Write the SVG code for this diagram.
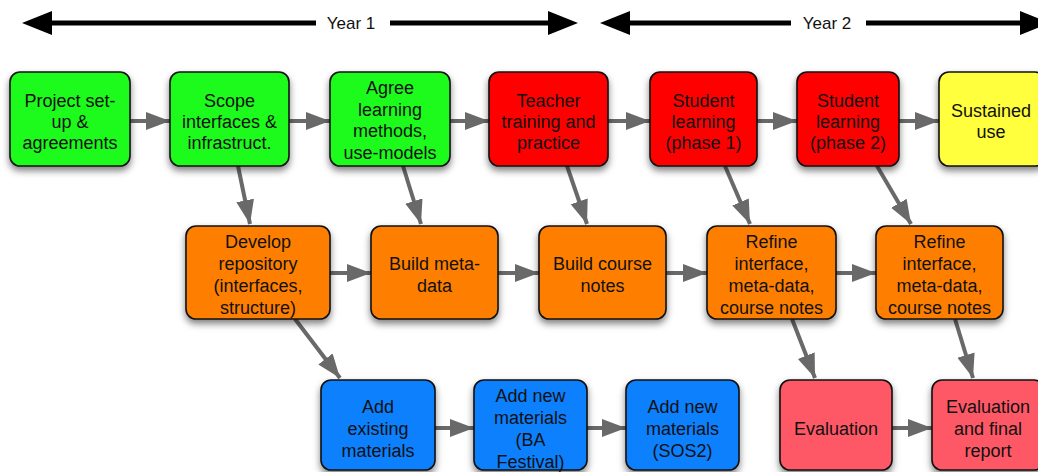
<svg xmlns="http://www.w3.org/2000/svg" width="1038" height="472" viewBox="0 0 1038 472">
<style>
text{font-family:"Liberation Sans",Arial,Helvetica,sans-serif;font-size:18px;fill:#111;text-anchor:middle}
.yr{font-size:17px}
.box{stroke:#111;stroke-width:1.6;filter:url(#sh)}
.g{fill:#1dfb1d}.r{fill:#fe0000}.y{fill:#ffff3c}.o{fill:#fe7f00}.b{fill:#0a80fe}.p{fill:#fe5866}
.c{stroke:#696969;stroke-width:4;fill:none;marker-end:url(#ah)}
.t{stroke:#000;stroke-width:5;fill:none}
</style>
<defs>
<filter id="sh" x="-20%" y="-20%" width="140%" height="150%">
<feDropShadow dx="0" dy="4" stdDeviation="3.5" flood-color="#000" flood-opacity="0.5"/>
</filter>
<marker id="ah" markerUnits="userSpaceOnUse" markerWidth="26" markerHeight="20" refX="24" refY="9" orient="auto">
<path d="M0,0 L24,9 L0,18 Z" fill="#696969"/>
</marker>
</defs>
<g id="timeline">
<polygon points="22,23 52,11 52,35" fill="#000"/>
<line class="t" x1="50" y1="23" x2="316" y2="23"/>
<text class="yr" x="351" y="29">Year 1</text>
<line class="t" x1="390" y1="23" x2="550" y2="23"/>
<polygon points="578,23 548,11 548,35" fill="#000"/>
<polygon points="600,23 630,11 630,35" fill="#000"/>
<line class="t" x1="628" y1="23" x2="791" y2="23"/>
<text class="yr" x="827" y="29">Year 2</text>
<line class="t" x1="866" y1="23" x2="1022" y2="23"/>
<polygon points="1050,23 1020,11 1020,35" fill="#000"/>
</g>
<g id="connectors">
<line class="c" x1="130" y1="121" x2="170" y2="121"/>
<line class="c" x1="289" y1="121" x2="330" y2="121"/>
<line class="c" x1="450" y1="121" x2="489" y2="121"/>
<line class="c" x1="608" y1="121" x2="650" y2="121"/>
<line class="c" x1="757" y1="121" x2="797" y2="121"/>
<line class="c" x1="899" y1="121" x2="939" y2="121"/>
<line class="c" x1="330" y1="273" x2="371" y2="273"/>
<line class="c" x1="498" y1="273" x2="539" y2="273"/>
<line class="c" x1="666" y1="273" x2="707" y2="273"/>
<line class="c" x1="836" y1="273" x2="876" y2="273"/>
<line class="c" x1="435" y1="428" x2="474" y2="428"/>
<line class="c" x1="587" y1="428" x2="626" y2="428"/>
<line class="c" x1="892" y1="428" x2="932" y2="428"/>
<line class="c" x1="238" y1="166" x2="250" y2="224"/>
<line class="c" x1="403" y1="166" x2="421" y2="224"/>
<line class="c" x1="567" y1="166" x2="587" y2="224"/>
<line class="c" x1="725" y1="166" x2="750" y2="224"/>
<line class="c" x1="877" y1="166" x2="911" y2="224"/>
<line class="c" x1="295" y1="319" x2="340" y2="378"/>
<line class="c" x1="792" y1="319" x2="815" y2="378"/>
<line class="c" x1="955" y1="319" x2="973" y2="378"/>
</g>
<g id="n1"><rect class="box g" x="10" y="72" width="120" height="94" rx="10"/>
<text x="70" y="107">Project set-<tspan x="70" dy="21">up &amp;</tspan><tspan x="70" dy="21">agreements</tspan></text></g>
<g id="n2"><rect class="box g" x="170" y="72" width="119" height="94" rx="10"/>
<text x="229.5" y="107">Scope<tspan x="229.5" dy="21">interfaces &amp;</tspan><tspan x="229.5" dy="21">infrastruct.</tspan></text></g>
<g id="n3"><rect class="box g" x="330" y="72" width="120" height="94" rx="10"/>
<text x="390" y="94">Agree<tspan x="390" dy="21.5">learning</tspan><tspan x="390" dy="21.5">methods,</tspan><tspan x="390" dy="21.5">use-models</tspan></text></g>
<g id="n4"><rect class="box r" x="489" y="72" width="119" height="94" rx="10"/>
<text x="548.5" y="107">Teacher<tspan x="548.5" dy="21">training and</tspan><tspan x="548.5" dy="21">practice</tspan></text></g>
<g id="n5"><rect class="box r" x="650" y="72" width="107" height="94" rx="10"/>
<text x="703.5" y="107">Student<tspan x="703.5" dy="21">learning</tspan><tspan x="703.5" dy="21">(phase 1)</tspan></text></g>
<g id="n6"><rect class="box r" x="797" y="72" width="102" height="94" rx="10"/>
<text x="848" y="107">Student<tspan x="848" dy="21">learning</tspan><tspan x="848" dy="21">(phase 2)</tspan></text></g>
<g id="n7"><rect class="box y" x="939" y="72" width="106" height="94" rx="10"/>
<text x="991" y="117">Sustained<tspan x="991" dy="21">use</tspan></text></g>
<g id="n8"><rect class="box o" x="186" y="226" width="144" height="93" rx="10"/>
<text x="258" y="248">Develop<tspan x="258" dy="22">repository</tspan><tspan x="258" dy="22">(interfaces,</tspan><tspan x="258" dy="22">structure)</tspan></text></g>
<g id="n9"><rect class="box o" x="371" y="226" width="127" height="93" rx="10"/>
<text x="434.5" y="270">Build meta-<tspan x="434.5" dy="22">data</tspan></text></g>
<g id="n10"><rect class="box o" x="539" y="226" width="127" height="93" rx="10"/>
<text x="602.5" y="270">Build course<tspan x="602.5" dy="22">notes</tspan></text></g>
<g id="n11"><rect class="box o" x="707" y="226" width="129" height="93" rx="10"/>
<text x="771.5" y="248">Refine<tspan x="771.5" dy="22">interface,</tspan><tspan x="771.5" dy="22">meta-data,</tspan><tspan x="771.5" dy="22">course notes</tspan></text></g>
<g id="n12"><rect class="box o" x="876" y="226" width="127" height="93" rx="10"/>
<text x="939.5" y="248">Refine<tspan x="939.5" dy="22">interface,</tspan><tspan x="939.5" dy="22">meta-data,</tspan><tspan x="939.5" dy="22">course notes</tspan></text></g>
<g id="n13"><rect class="box b" x="321" y="380" width="114" height="90" rx="10"/>
<text x="378" y="413">Add<tspan x="378" dy="22">existing</tspan><tspan x="378" dy="22">materials</tspan></text></g>
<g id="n14"><rect class="box b" x="474" y="380" width="113" height="90" rx="10"/>
<text x="530.5" y="402">Add new<tspan x="530.5" dy="22">materials</tspan><tspan x="530.5" dy="22">(BA</tspan><tspan x="530.5" dy="22">Festival)</tspan></text></g>
<g id="n15"><rect class="box b" x="626" y="380" width="113" height="90" rx="10"/>
<text x="682.5" y="413">Add new<tspan x="682.5" dy="22">materials</tspan><tspan x="682.5" dy="22">(SOS2)</tspan></text></g>
<g id="n16"><rect class="box p" x="780" y="380" width="112" height="90" rx="10"/>
<text x="836" y="435">Evaluation</text></g>
<g id="n17"><rect class="box p" x="932" y="380" width="112" height="90" rx="10"/>
<text x="988" y="413">Evaluation<tspan x="988" dy="22">and final</tspan><tspan x="988" dy="22">report</tspan></text></g>
</svg>
